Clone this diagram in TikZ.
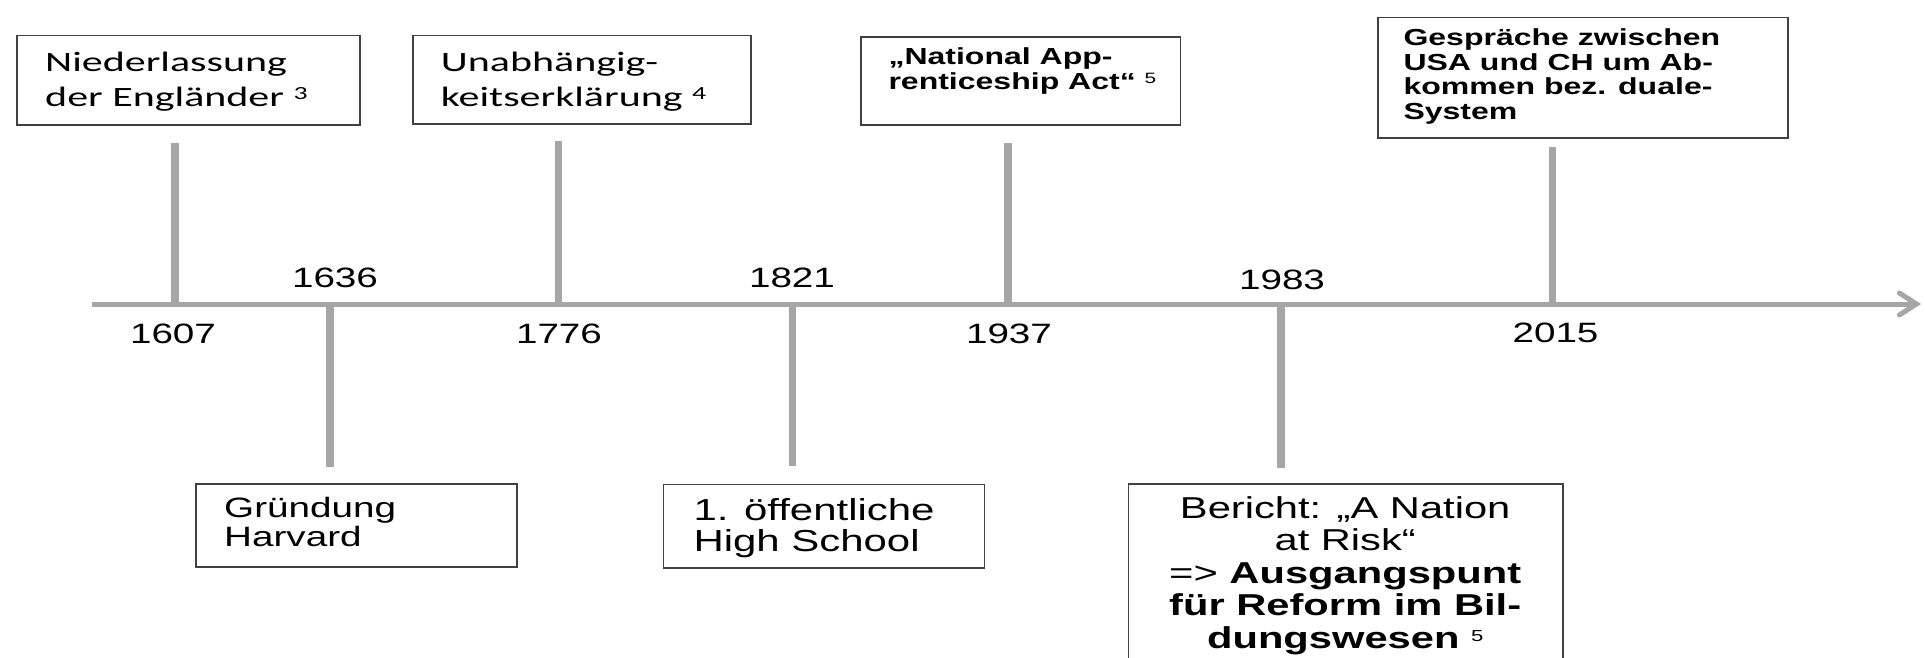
\documentclass[tikz,border=0pt]{standalone}
\usepackage{fontspec}
\usetikzlibrary{arrows.meta}
\newfontfamily\arS[FakeStretch=1.38]{Liberation Sans}
\newfontfamily\calS[FakeStretch=1.5]{Carlito}
\definecolor{linegray}{RGB}{166,166,166}
\definecolor{boxgray}{RGB}{64,64,64}
\tikzset{
  tickline/.style={draw=linegray, line width=7.5pt},
  axisline/.style={draw=linegray, line width=5pt},
  eventbox/.style={draw=boxgray, line width=1.5pt, rectangle, inner sep=0pt, anchor=north west},
  year/.style={anchor=base, inner sep=0pt, font=\arS\fontsize{28}{32}\selectfont},
  txt/.style={anchor=base west, inner sep=0pt},
}
\begin{document}
\begin{tikzpicture}[x=1pt,y=-1pt]
\useasboundingbox (0,0) rectangle (1925,657);
\fill[white] (0,0) rectangle (1925,657);
\clip (0,0) rectangle (1925,657);

% axis
\coordinate (axL) at (92,304);
\coordinate (axR) at (1921,304);
\draw[axisline, -{Straight Barb[length=17pt, width=22pt, line cap=round]}] (axL) -- (axR);

% ticks
\coordinate (a1607) at (175,304);   \coordinate (e1607) at (175,142.7);
\coordinate (a1636) at (330,304);   \coordinate (e1636) at (330,467);
\coordinate (a1776) at (558.7,304); \coordinate (e1776) at (558.7,141);
\coordinate (a1821) at (792.3,304); \coordinate (e1821) at (792.3,465.7);
\coordinate (a1937) at (1008,304);  \coordinate (e1937) at (1008,142.7);
\coordinate (a1983) at (1281,304);  \coordinate (e1983) at (1281,468);
\coordinate (a2015) at (1552.3,304);\coordinate (e2015) at (1552.3,147.3);
\foreach \y in {1607,1636,1776,1821,1937,1983,2015}
  \draw[tickline] (a\y) -- (e\y);

% year labels
\node[year] (y1607) at (173,343) {1607};
\node[year] (y1636) at (335,287) {1636};
\node[year] (y1776) at (559,343) {1776};
\node[year] (y1821) at (792,287) {1821};
\node[year] (y1937) at (1009,343) {1937};
\node[year] (y1983) at (1282,289.5) {1983};
\node[year] (y2015) at (1555.5,342) {2015};

% boxes
\node[eventbox, minimum width=343pt, minimum height=89.3pt] (b1) at (16,34.7) {};
\node[eventbox, minimum width=338pt, minimum height=88.3pt] (b2) at (412,34.7) {};
\node[eventbox, minimum width=319.7pt, minimum height=88pt] (b3) at (860,36) {};
\node[eventbox, minimum width=410pt, minimum height=120.6pt] (b4) at (1377.3,16.7) {};
\node[eventbox, minimum width=320.7pt, minimum height=82.7pt] (b5) at (195.3,483.3) {};
\node[eventbox, minimum width=321pt, minimum height=83.6pt] (b6) at (662.7,483.7) {};
\node[eventbox, minimum width=434.6pt, minimum height=220pt] (b7) at (1127.7,483.3) {};

% texts
\node[txt] (t1) at (45,71.7) {\parbox[t]{320pt}{\raggedright\calS\fontsize{28}{34.3}\selectfont
  Niederlassung\\der Engländer \raisebox{7pt}{\fontsize{18.5}{18.5}\selectfont 3}}};
\node[txt] (t2) at (440.7,71.7) {\parbox[t]{320pt}{\raggedright\calS\fontsize{28}{34.3}\selectfont
  Unabhängig-\\keitserklärung \raisebox{7pt}{\fontsize{18.5}{18.5}\selectfont 4}}};
\node[txt] (t3) at (888.3,64) {\parbox[t]{320pt}{\raggedright\arS\bfseries\fontsize{23.2}{25.3}\selectfont
  „National App-\\renticeship Act“ \raisebox{6pt}{\mdseries\fontsize{15}{15}\selectfont 5}}};
\node[txt] (t4) at (1403.3,45.7) {\parbox[t]{400pt}{\raggedright\arS\bfseries\fontsize{23.2}{24.5}\selectfont
  Gespräche zwischen\\USA und CH um Ab-\\kommen bez. duale-\\System}};
\node[txt] (t5) at (224,517.3) {\parbox[t]{320pt}{\raggedright\arS\fontsize{28}{29.3}\selectfont
  Gründung\\Harvard}};
\node[txt] (t6) at (693.3,520) {\parbox[t]{320pt}{\raggedright\arS\fontsize{30.4}{31}\selectfont
  1. öffentliche\\High School}};
\node[txt] (t7) at (1127.7,518) {\parbox[t]{434.6pt}{\centering\arS\fontsize{30.2}{32.5}\selectfont
  Bericht: „A Nation\\at Risk“\\=> \textbf{Ausgangspunt}\\\textbf{für Reform im Bil-}\\\textbf{dungswesen} \raisebox{7pt}{\fontsize{16}{16}\selectfont 5}}};
\end{tikzpicture}
\end{document}
